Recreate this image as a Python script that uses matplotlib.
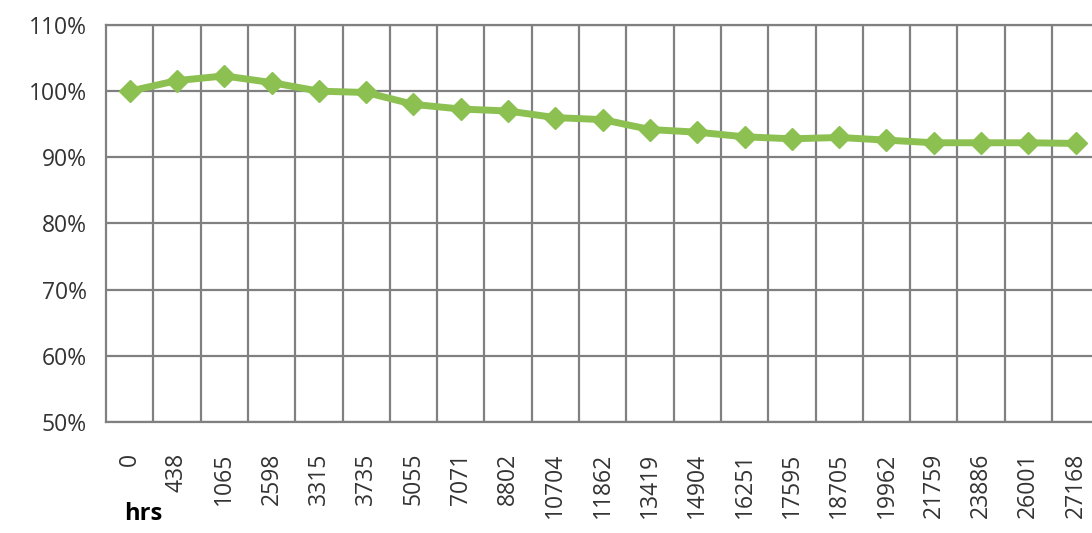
import matplotlib
matplotlib.use("Agg")
import matplotlib.pyplot as plt
from matplotlib.ticker import FixedLocator, FuncFormatter

# hours of operation (category labels) and relative output
hours = ["0", "438", "1065", "2598", "3315", "3735", "5055", "7071", "8802",
         "10704", "11862", "13419", "14904", "16251", "17595", "18705",
         "19962", "21759", "23886", "26001", "27168"]
output_pct = [100.0, 101.6, 102.3, 101.3, 100.0, 99.8, 98.0, 97.3, 97.0,
              96.0, 95.7, 94.2, 93.8, 93.1, 92.8, 93.0, 92.6, 92.2, 92.2,
              92.2, 92.1]
y_ticks = [50, 60, 70, 80, 90, 100, 110]

text_color = "#333333"
grid_color = "#808080"
line_color = "#8cc152"

plt.rcParams["font.family"] = ["Open Sans", "DejaVu Sans"]

fig = plt.figure(figsize=(10.92, 5.33), dpi=100)
ax = fig.add_axes([0.0971, 0.2083, 0.9096, 0.7448])

x = list(range(len(hours)))
ax.plot(x, output_pct, color=line_color, linewidth=5, marker="D",
        markersize=11, markerfacecolor=line_color, markeredgecolor=line_color,
        zorder=3)

ax.set_xlim(-0.5, len(hours) - 0.5)
ax.set_ylim(50, 110)
ax.set_yticks(y_ticks)
ax.yaxis.set_major_formatter(FuncFormatter(lambda v, p: f"{v:.0f}%"))
ax.set_xticks(x)
ax.set_xticklabels(hours, rotation=90, va="top", ha="center")
ax.xaxis.set_minor_locator(FixedLocator([i + 0.5 for i in x]))

ax.grid(True, axis="y", which="major", color=grid_color, linewidth=1.6)
ax.grid(True, axis="x", which="minor", color=grid_color, linewidth=1.6)
ax.tick_params(axis="both", which="both", length=0, colors=text_color,
               labelsize=16.5)
ax.tick_params(axis="x", pad=22)
ax.tick_params(axis="y", pad=14)
for s in ax.spines.values():
    s.set_color(grid_color)
    s.set_linewidth(1.6)
ax.set_axisbelow(True)

fig.text(143 / 1092, 1 - 514 / 533, "hrs", fontsize=17, fontweight="bold",
         color="black", ha="center", va="center")

fig.savefig("out.png", dpi=100)
